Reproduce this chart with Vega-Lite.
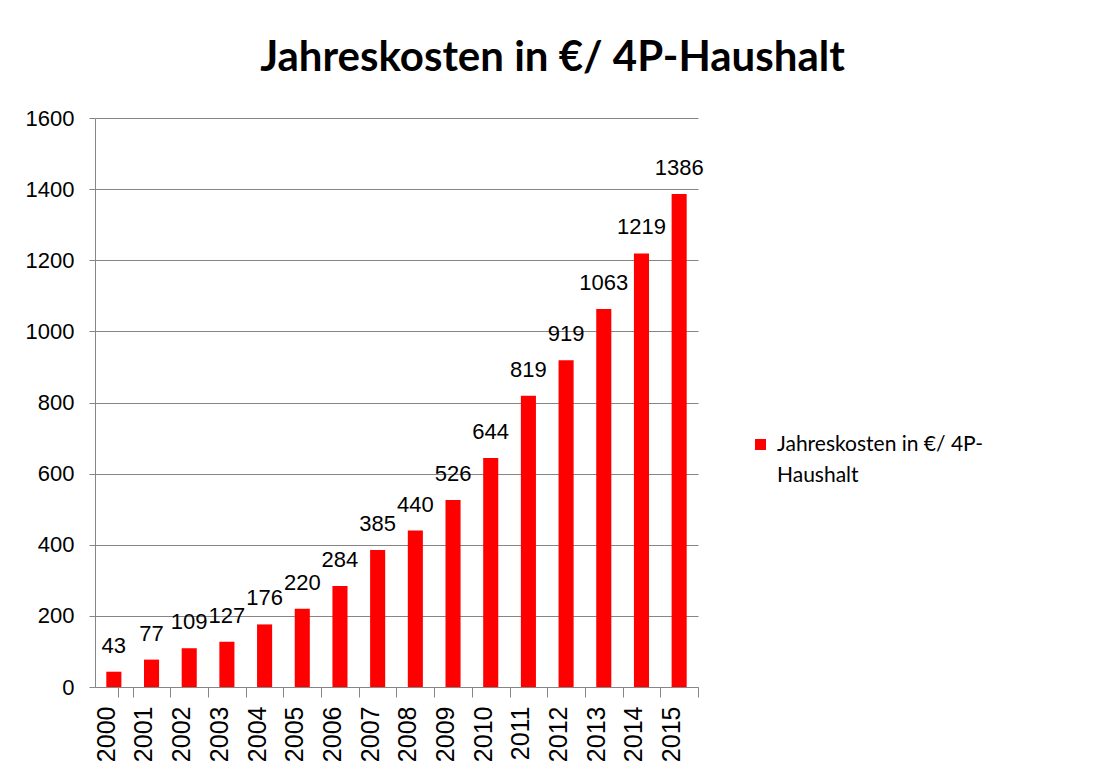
{
  "$schema": "https://vega.github.io/schema/vega-lite/v6.json",
  "width": 603,
  "height": 569,
  "autosize": "none",
  "padding": {"left": 95, "top": 118, "right": 395, "bottom": 87},
  "background": "white",
  "title": {
    "text": "Jahreskosten in €/ 4P-Haushalt",
    "font": "Lato",
    "fontSize": 42,
    "fontWeight": "bold",
    "color": "black",
    "anchor": "middle",
    "baseline": "alphabetic",
    "dx": 156,
    "offset": -6
  },
  "config": {
    "view": {"stroke": null},
    "style": {"guide-label": {"lineHeight": 31}}
  },
  "data": {
    "values": [
      {"Jahr": "2000", "Kosten": 43},
      {"Jahr": "2001", "Kosten": 77},
      {"Jahr": "2002", "Kosten": 109},
      {"Jahr": "2003", "Kosten": 127},
      {"Jahr": "2004", "Kosten": 176},
      {"Jahr": "2005", "Kosten": 220},
      {"Jahr": "2006", "Kosten": 284},
      {"Jahr": "2007", "Kosten": 385},
      {"Jahr": "2008", "Kosten": 440},
      {"Jahr": "2009", "Kosten": 526},
      {"Jahr": "2010", "Kosten": 644},
      {"Jahr": "2011", "Kosten": 819},
      {"Jahr": "2012", "Kosten": 919},
      {"Jahr": "2013", "Kosten": 1063},
      {"Jahr": "2014", "Kosten": 1219},
      {"Jahr": "2015", "Kosten": 1386}
    ]
  },
  "encoding": {
    "x": {
      "field": "Jahr",
      "type": "ordinal",
      "scale": {"paddingInner": 0.6, "paddingOuter": 0.3},
      "axis": {
        "title": null,
        "labelAngle": 270,
        "labelFont": "Liberation Sans",
        "labelFontSize": 25,
        "labelColor": "black",
        "labelPadding": 9,
        "tickSize": 10,
        "tickColor": "#868686",
        "domainColor": "#868686",
        "bandPosition": 1,
        "tickExtra": true,
        "tickOffset": 11.3,
        "labelOffset": -18.85,
        "grid": false
      }
    },
    "y": {
      "field": "Kosten",
      "type": "quantitative",
      "scale": {"domain": [0, 1600], "nice": false},
      "axis": {
        "title": null,
        "format": "d",
        "values": [0, 200, 400, 600, 800, 1000, 1200, 1400, 1600],
        "labelFont": "Liberation Sans",
        "labelFontSize": 22,
        "labelColor": "black",
        "labelPadding": 15,
        "tickSize": 6,
        "tickColor": "#868686",
        "domainColor": "#868686",
        "gridColor": "#868686",
        "gridOpacity": 1,
        "grid": true
      }
    }
  },
  "layer": [
    {
      "mark": {"type": "bar", "color": "#FF0000"},
      "encoding": {
        "color": {
          "datum": "Jahreskosten in €/ 4P-Haushalt",
          "scale": {"range": ["#FF0000"]},
          "legend": {
            "title": null,
            "orient": "none",
            "legendX": 655,
            "legendY": 316,
            "symbolType": "square",
            "symbolSize": 121,
            "symbolStrokeWidth": 0,
            "labelFont": "Lato",
            "labelFontSize": 21,
            "labelColor": "black",
            "labelLimit": 0,
            "labelOffset": 6,
            "labelExpr": "['Jahreskosten in €/ 4P-', 'Haushalt']"
          }
        }
      }
    },
    {
      "mark": {
        "type": "text",
        "font": "Liberation Sans",
        "fontSize": 22,
        "baseline": "alphabetic",
        "dy": -19,
        "color": "black"
      },
      "encoding": {"text": {"field": "Kosten", "type": "quantitative"}}
    }
  ]
}
